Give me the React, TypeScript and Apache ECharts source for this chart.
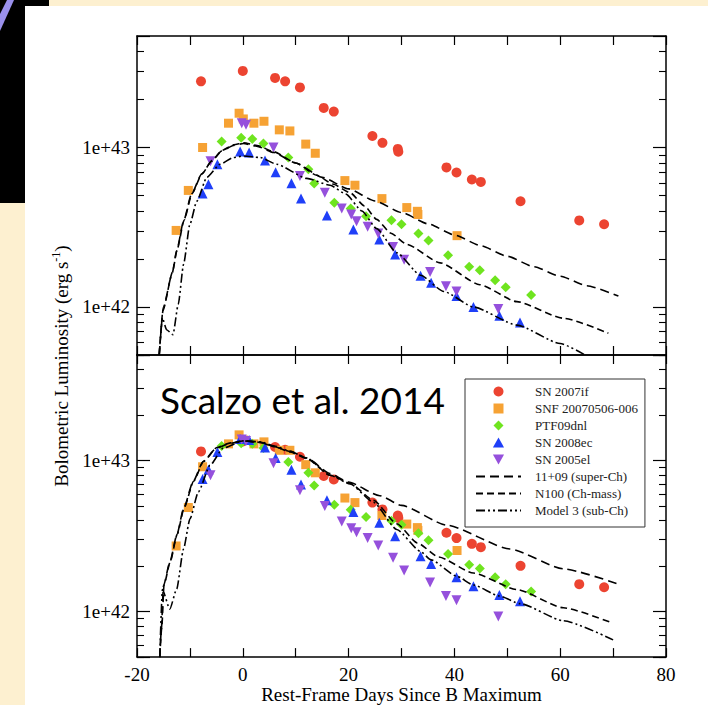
import React, { useEffect, useRef } from "react";
import * as echarts from "echarts";

const SERIF = "'Liberation Serif', 'Times New Roman', serif";

// ---- data: observed supernovae (day since B max, luminosity erg/s) ----
const NAMES = ["SN 2007if", "SNF 20070506-006", "PTF09dnl", "SN 2008ec", "SN 2005el"];
const MODEL_NAMES = ["11+09 (super-Ch)", "N100 (Ch-mass)", "Model 3 (sub-Ch)"];

const DAYS_07IF = [-7.9, 0.0, 6.1, 8.0, 10.8, 15.3, 17.2, 24.5, 26.4, 29.3, 29.4, 38.5, 40.4, 43.3, 45.0, 52.5, 63.6, 68.3];
const L_07IF_TOP = [2.6e43, 3.02e43, 2.73e43, 2.6e43, 2.38e43, 1.77e43, 1.68e43, 1.18e43, 1.07e43, 9.8e42, 9.4e42, 7.5e42, 6.97e42, 6.3e42, 6.08e42, 4.6e42, 3.49e42, 3.3e42];
const L_07IF_BOT = [1.15e43, 1.34e43, 1.23e43, 1.18e43, 1.06e43, 7.9e42, 7.5e42, 5.27e42, 4.75e42, 4.33e42, 4.17e42, 3.33e42, 3.07e42, 2.81e42, 2.67e42, 2.01e42, 1.52e42, 1.45e42];

const DAYS_SNF = [-12.6, -10.3, -7.6, -2.7, -0.7, 0.1, 2.1, 4.0, 6.9, 8.9, 11.9, 13.7, 19.3, 21.2, 26.3, 31.0, 33.0, 33.1, 40.5];
const L_SNF_TOP = [3.02e42, 5.38e42, 1.0e43, 1.42e43, 1.64e43, 1.51e43, 1.42e43, 1.46e43, 1.29e43, 1.27e43, 1.05e43, 9.2e42, 6.2e42, 5.8e42, 4.78e42, 4.2e42, 3.98e42, 3.8e42, 2.8e42];
const L_SNF_BOT = [2.72e42, 4.89e42, 9.1e42, 1.29e43, 1.48e43, 1.37e43, 1.29e43, 1.33e43, 1.17e43, 1.17e43, 9.4e42, 8.3e42, 5.65e42, 5.27e42, 4.33e42, 3.8e42, 3.6e42, 3.45e42, 2.54e42];

const DAYS_PTF = [-4.0, -0.3, 1.8, 3.9, 8.6, 12.4, 13.5, 17.3, 20.4, 23.3, 28.1, 30.0, 33.2, 35.1, 38.8, 42.8, 44.8, 47.7, 49.7, 54.5];
const L_PTF_TOP = [1.09e43, 1.15e43, 1.13e43, 1.06e43, 8.65e42, 7.3e42, 5.94e42, 4.5e42, 4.15e42, 3.7e42, 3.5e42, 3.3e42, 2.89e42, 2.61e42, 2.11e42, 1.79e42, 1.7e42, 1.47e42, 1.33e42, 1.19e42];
const L_PTF_BOT = [1.25e43, 1.3e43, 1.29e43, 1.21e43, 9.8e42, 8.3e42, 6.85e42, 5.1e42, 4.73e42, 4.23e42, 4.0e42, 3.76e42, 3.3e42, 2.97e42, 2.41e42, 2.04e42, 1.93e42, 1.69e42, 1.52e42, 1.36e42];

const DAYS_08EC = [-7.6, -6.5, -4.8, -0.5, 1.2, 4.2, 6.2, 9.2, 11.0, 15.9, 20.9, 25.8, 28.8, 33.6, 35.6, 40.4, 43.6, 48.5, 52.4];
const L_08EC_TOP = [5.14e42, 5.88e42, 7.85e42, 9.44e42, 9.3e42, 8.3e42, 7.0e42, 5.96e42, 4.78e42, 3.75e42, 3.06e42, 2.65e42, 2.13e42, 1.57e42, 1.42e42, 1.17e42, 1.0e42, 8.8e41, 8.0e41];
const L_08EC_BOT = [7.55e42, 8.7e42, 1.14e43, 1.39e43, 1.37e43, 1.22e43, 1.04e43, 8.7e42, 6.95e42, 5.46e42, 4.57e42, 3.88e42, 3.16e42, 2.33e42, 2.07e42, 1.69e42, 1.47e42, 1.29e42, 1.17e42];

const DAYS_05EL = [-6.1, -0.2, 0.6, 5.8, 10.8, 15.5, 18.7, 20.5, 21.5, 23.6, 25.6, 28.4, 30.5, 35.4, 38.4, 40.4, 48.3];
const L_05EL_TOP = [8.2e42, 1.42e43, 1.39e43, 1.0e43, 6.63e42, 5.2e42, 4.15e42, 3.8e42, 3.45e42, 3.18e42, 2.89e42, 2.38e42, 1.98e42, 1.66e42, 1.35e42, 1.25e42, 9.7e41];
const L_05EL_BOT = [8.0e42, 1.38e43, 1.35e43, 9.6e42, 6.37e42, 5.0e42, 3.95e42, 3.57e42, 3.36e42, 3.07e42, 2.74e42, 2.27e42, 1.87e42, 1.56e42, 1.27e42, 1.19e42, 9.3e41];

// ---- model light curves ----
const DAYS_A_TOP = [-15.8, -15.0, -13.4, -12.5, -11.2, -9.7, -7.8, -5.9, -4.0, -1.8, 0.1, 2.6, 5.8, 10, 15, 20, 25, 30, 35, 40, 45, 50, 55, 60, 65, 71];
const L_A_TOP = [5e41, 1.0e42, 1.6e42, 2.25e42, 3.45e42, 5.1e42, 6.8e42, 8.2e42, 9.5e42, 1.03e43, 1.06e43, 1.02e43, 9.3e42, 8.0e42, 6.5e42, 5.5e42, 4.62e42, 3.91e42, 3.32e42, 2.83e42, 2.42e42, 2.08e42, 1.79e42, 1.56e42, 1.36e42, 1.17e42];
const DAYS_B_TOP = [-15.8, -15.1, -13.3, -12.4, -11.1, -9.6, -7.7, -5.8, -3.9, -1.7, 0.2, 2.7, 5.9, 10, 14, 17, 20.3, 23, 25.3, 28, 31, 37.3, 44.8, 51.8, 60.6, 69.1];
const L_B_TOP = [5e41, 9.5e41, 1.65e42, 2.3e42, 3.5e42, 5.15e42, 6.85e42, 8.3e42, 9.6e42, 1.04e43, 1.07e43, 1.03e43, 9.4e42, 8.0e42, 6.7e42, 5.9e42, 5.2e42, 4.3e42, 3.54e42, 2.9e42, 2.47e42, 1.89e42, 1.38e42, 1.08e42, 8.5e41, 6.85e41];
const DAYS_C_TOP = [-15.8, -15.2, -14.4, -13.2, -12.2, -11.2, -10.0, -8.7, -6.8, -4.3, -1.8, 0.1, 3.3, 6.4, 12.1, 16.5, 19.5, 22.5, 25.3, 29.1, 33.6, 38, 43.6, 51.8, 60, 64.7];
const L_C_TOP = [5e41, 8.5e41, 7.2e41, 6.7e41, 1.04e42, 1.85e42, 3.3e42, 4.6e42, 6.5e42, 7.85e42, 8.65e42, 8.85e42, 8.65e42, 7.85e42, 6.4e42, 5.8e42, 5.1e42, 4.0e42, 3.1e42, 2.19e42, 1.58e42, 1.25e42, 1.0e42, 7.7e41, 5.9e41, 5.0e41];

const DAYS_A_BOT = [-15.7, -15.4, -15.0, -13.8, -12.5, -11.2, -9.4, -7.5, -5.0, -2.4, 0.1, 3.3, 5.8, 9, 12.1, 16.5, 20, 25.9, 30, 38.6, 50.5, 60.6, 71];
const L_A_BOT = [5e41, 7.6e41, 1.48e42, 2.12e42, 3.19e42, 4.8e42, 7.25e42, 9.85e42, 1.21e43, 1.3e43, 1.35e43, 1.32e43, 1.24e43, 1.15e43, 1.04e43, 8.2e42, 7.2e42, 5.85e42, 5.05e42, 3.73e42, 2.6e42, 1.92e42, 1.52e42];
const DAYS_B_BOT = [-15.7, -15.3, -14.9, -13.7, -12.4, -11.1, -9.3, -7.4, -4.9, -2.3, 0.2, 3.4, 5.9, 9, 12.1, 16.5, 20.3, 24.7, 29.1, 33, 37, 43.6, 51.8, 60.6, 69.7];
const L_B_BOT = [5e41, 8e41, 1.5e42, 2.15e42, 3.25e42, 4.85e42, 7.3e42, 9.9e42, 1.22e43, 1.31e43, 1.35e43, 1.32e43, 1.24e43, 1.14e43, 1.03e43, 8.0e42, 7.06e42, 5.46e42, 3.82e42, 2.85e42, 2.3e42, 1.8e42, 1.4e42, 1.06e42, 8.45e41];
const DAYS_C_BOT = [-15.7, -15.2, -13.8, -12.5, -11.2, -10.0, -8.4, -6.2, -3.7, 0.1, 3.3, 6, 9, 12.1, 16.5, 20.3, 24.7, 29.1, 33.6, 35.6, 40.4, 43.6, 48.5, 52.4, 60.6, 70];
const L_C_BOT = [5e41, 1.4e42, 1.04e42, 1.41e42, 2.6e42, 4.1e42, 6.2e42, 9.3e42, 1.21e43, 1.35e43, 1.33e43, 1.25e43, 1.15e43, 1.04e43, 8.0e42, 7.0e42, 5.3e42, 3.5e42, 2.5e42, 2.2e42, 1.72e42, 1.5e42, 1.27e42, 1.13e42, 8.7e41, 6.5e41];

const X_MIN = -20;
const X_MAX = 80;
const Y_MIN = 5e41;
const Y_MAX = 5e43;

const zip = (xs: number[], ys: number[]) => xs.map((x, i) => [x, ys[i]]);

const OBS = [
  { name: NAMES[0], days: DAYS_07IF, top: L_07IF_TOP, bot: L_07IF_BOT, color: "#ec4431", symbol: "circle", size: 10, rot: 0, icon: "circle" },
  { name: NAMES[1], days: DAYS_SNF, top: L_SNF_TOP, bot: L_SNF_BOT, color: "#f6a234", symbol: "rect", size: 9, rot: 0, icon: "path://M0,0H10V10H0Z" },
  { name: NAMES[2], days: DAYS_PTF, top: L_PTF_TOP, bot: L_PTF_BOT, color: "#6fe41f", symbol: "diamond", size: 10, rot: 0, icon: "path://M5,0L10,5L5,10L0,5Z" },
  { name: NAMES[3], days: DAYS_08EC, top: L_08EC_TOP, bot: L_08EC_BOT, color: "#1f3ff8", symbol: "triangle", size: 10, rot: 0, icon: "path://M5,0L10,9H0Z" },
  { name: NAMES[4], days: DAYS_05EL, top: L_05EL_TOP, bot: L_05EL_BOT, color: "#9550dc", symbol: "triangle", size: 10, rot: 180, icon: "path://M0,0H10L5,9Z" },
];

const MODELS = [
  { name: MODEL_NAMES[0], top: zip(DAYS_A_TOP, L_A_TOP), bot: zip(DAYS_A_BOT, L_A_BOT), dash: [9, 5] },
  { name: MODEL_NAMES[1], top: zip(DAYS_B_TOP, L_B_TOP), bot: zip(DAYS_B_BOT, L_B_BOT), dash: [7, 4] },
  { name: MODEL_NAMES[2], top: zip(DAYS_C_TOP, L_C_TOP), bot: zip(DAYS_C_BOT, L_C_BOT), dash: [9, 3, 2, 3, 2, 3] },
];

const axisLine = { show: true, onZero: false, lineStyle: { color: "#000", width: 1.5 } };

function xAxis(gridIndex: number, position: string, labels: boolean, name?: string) {
  return {
    type: "value",
    gridIndex,
    position,
    min: X_MIN,
    max: X_MAX,
    interval: 10,
    axisLine,
    axisTick: { show: true, inside: true, length: 9, lineStyle: { color: "#000", width: 1.2 } },
    axisLabel: {
      show: labels,
      margin: 8,
      fontFamily: SERIF,
      fontSize: 19,
      color: "#000",
      formatter: (v: number) => (v % 20 === 0 ? String(v) : ""),
    },
    splitLine: { show: false },
    name: name || "",
    nameLocation: "middle",
    nameGap: 27,
    nameTextStyle: { fontFamily: SERIF, fontSize: 19, color: "#000" },
  };
}

function yAxis(gridIndex: number, position: string, labels: boolean) {
  return {
    type: "log",
    logBase: 10,
    gridIndex,
    position,
    min: Y_MIN,
    max: Y_MAX,
    axisLine,
    axisTick: { show: true, inside: true, length: 13, lineStyle: { color: "#000", width: 1.2 } },
    minorTick: { show: true, splitNumber: 9, length: 7, lineStyle: { color: "#000", width: 1.1 } },
    axisLabel: {
      show: labels,
      margin: 7,
      fontFamily: SERIF,
      fontSize: 19,
      color: "#000",
      showMinLabel: false,
      showMaxLabel: false,
      formatter: (v: number) => {
        const l = Math.log10(v);
        return Math.abs(l - Math.round(l)) < 1e-6 ? v.toExponential() : "";
      },
    },
    splitLine: { show: false },
    minorSplitLine: { show: false },
  };
}

function buildOption() {
  const series: any[] = [];
  [0, 1].forEach((panel) => {
    const xi = panel === 0 ? 0 : 2;
    const yi = panel === 0 ? 0 : 2;
    OBS.forEach((o) => {
      series.push({
        type: "scatter",
        name: o.name,
        xAxisIndex: xi,
        yAxisIndex: yi,
        data: zip(o.days, panel === 0 ? o.top : o.bot),
        symbol: o.symbol,
        symbolSize: o.size,
        symbolRotate: o.rot,
        itemStyle: { color: o.color, opacity: 1 },
        z: 3,
        silent: true,
      });
    });
    MODELS.forEach((m) => {
      series.push({
        type: "line",
        name: m.name,
        xAxisIndex: xi,
        yAxisIndex: yi,
        data: panel === 0 ? m.top : m.bot,
        symbol: "none",
        smooth: 0.2,
        smoothMonotone: "x",
        clip: true,
        itemStyle: { color: "#000" },
        lineStyle: { color: "#000", width: 1.6, type: m.dash },
        z: 4,
        silent: true,
      });
    });
  });

  const legendData = [
    ...OBS.map((o) => ({ name: o.name, icon: o.icon })),
    ...MODELS.map((m) => ({ name: m.name, itemStyle: { opacity: 0, color: "rgba(0,0,0,0)", borderWidth: 0 } })),
  ];

  return {
    animation: false,
    backgroundColor: "#fdf0d0",
    grid: [
      { left: 137, top: 36, width: 529, height: 319 },
      { left: 137, top: 355, width: 529, height: 303 },
    ],
    xAxis: [
      xAxis(0, "bottom", false),
      xAxis(0, "top", false),
      xAxis(1, "bottom", true, "Rest-Frame Days Since B Maximum"),
      xAxis(1, "top", false),
    ],
    yAxis: [yAxis(0, "left", true), yAxis(0, "right", false), yAxis(1, "left", true), yAxis(1, "right", false)],
    legend: {
      data: legendData,
      orient: "vertical",
      left: 465,
      top: 379,
      padding: [6, 7, 10, 10],
      itemGap: 4,
      itemWidth: 45,
      itemHeight: 10,
      symbolKeepAspect: true,
      symbolRotate: 0,
      backgroundColor: "#fff",
      borderColor: "#333",
      borderWidth: 1,
      borderRadius: 0,
      selectedMode: false,
      textStyle: { fontFamily: SERIF, fontSize: 13, color: "#222", padding: [0, 0, 0, 9] },
      z: 10,
    },
    graphic: [
      { type: "rect", shape: { x: 25, y: 6, width: 683, height: 699 }, style: { fill: "#ffffff" }, z: -10, silent: true },
      { type: "rect", shape: { x: 0, y: 0, width: 25, height: 203 }, style: { fill: "#000000" }, z: -9, silent: true },
      { type: "rect", shape: { x: 0, y: 0, width: 49, height: 6 }, style: { fill: "#000000" }, z: -9, silent: true },
      {
        type: "polygon",
        shape: { points: [[7, 0], [14, 0], [0, 31], [0, 14]] },
        style: { fill: "#9a90ec" },
        z: -8,
        silent: true,
      },
      {
        type: "text",
        x: 160,
        y: 399,
        z: 5,
        silent: true,
        style: {
          text: "Scalzo et al. 2014",
          fontFamily: "Lato, 'Open Sans', sans-serif",
          fontSize: 37,
          fill: "#000",
          align: "left",
          textAlign: "left",
          verticalAlign: "middle",
          textVerticalAlign: "middle",
        },
      },
      {
        type: "text",
        x: 61,
        y: 366,
        rotation: Math.PI / 2,
        z: 5,
        silent: true,
        style: {
          text: "{n|Bolometric Luminosity (erg s}{s|-1}{n|)}",
          align: "center",
          textAlign: "center",
          verticalAlign: "middle",
          textVerticalAlign: "middle",
          rich: {
            n: { fontFamily: SERIF, fontSize: 19, fill: "#000", color: "#000", lineHeight: 22 },
            s: { fontFamily: SERIF, fontSize: 12, fill: "#000", color: "#000", verticalAlign: "top", lineHeight: 22 },
          },
        },
      },
    ],
    series,
  };
}

export default function App() {
  const ref = useRef<HTMLDivElement>(null);
  useEffect(() => {
    document.body.style.margin = "0";
    const chart = echarts.init(ref.current as HTMLDivElement, null, { renderer: "svg" });
    chart.setOption(buildOption() as any);
    return () => chart.dispose();
  }, []);
  return <div ref={ref} style={{ width: 708, height: 705 }} />;
}
